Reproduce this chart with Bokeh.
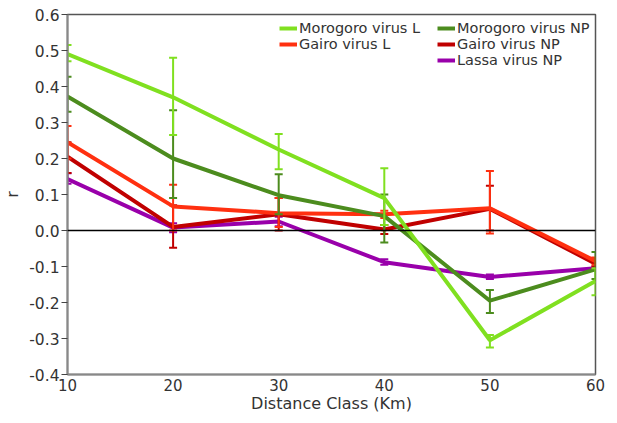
from bokeh.plotting import figure
from bokeh.models import (ColumnDataSource, Legend, LegendItem, Span, FixedTicker,
                          PrintfTickFormatter, Range1d)
from bokeh.embed import file_html
from bokeh.resources import INLINE

distance = [10, 20, 30, 40, 50, 60]
x_title = "Distance Class (Km)"
y_title = "r"

morogoro_L = [0.49, 0.37, 0.225, 0.09, -0.305, -0.14]
morogoro_L_lo = [0.47, 0.265, 0.17, 0.015, -0.325, -0.18]
morogoro_L_hi = [0.515, 0.48, 0.268, 0.173, -0.29, -0.105]

morogoro_NP = [0.372, 0.2, 0.098, 0.04, -0.195, -0.108]
morogoro_NP_lo = [0.33, 0.09, 0.045, -0.033, -0.229, -0.135]
morogoro_NP_hi = [0.427, 0.334, 0.156, 0.10, -0.165, -0.06]

gairo_L = [0.245, 0.067, 0.048, 0.045, 0.062, -0.085]
gairo_L_lo = [0.2, 0.0, 0.01, 0.035, -0.008, -0.095]
gairo_L_hi = [0.29, 0.127, 0.09, 0.055, 0.165, -0.075]

gairo_NP = [0.205, 0.01, 0.045, 0.003, 0.06, -0.092]
gairo_NP_lo = [0.16, -0.048, 0.0, -0.01, 0.0, -0.1]
gairo_NP_hi = [0.245, 0.07, 0.09, 0.015, 0.124, -0.08]

lassa_NP = [0.143, 0.008, 0.025, -0.088, -0.129, -0.105]
lassa_NP_lo = [0.13, -0.005, 0.012, -0.095, -0.135, -0.11]
lassa_NP_hi = [0.159, 0.02, 0.038, -0.08, -0.122, -0.1]

series = [
    ("Lassa virus NP", lassa_NP, lassa_NP_lo, lassa_NP_hi, "#9900AA"),
    ("Gairo virus NP", gairo_NP, gairo_NP_lo, gairo_NP_hi, "#C00000"),
    ("Gairo virus L", gairo_L, gairo_L_lo, gairo_L_hi, "#FF3010"),
    ("Morogoro virus NP", morogoro_NP, morogoro_NP_lo, morogoro_NP_hi, "#4C8C1E"),
    ("Morogoro virus L", morogoro_L, morogoro_L_lo, morogoro_L_hi, "#80E020"),
]

FONT = "DejaVu Sans"

p = figure(width=609, height=415, output_backend="svg", toolbar_location=None,
           x_range=Range1d(10, 60), y_range=Range1d(-0.4, 0.6),
           min_border_left=62, min_border_right=14, min_border_top=14,
           min_border_bottom=35)
p.grid.visible = False
p.background_fill_color = "white"
p.outline_line_color = "#555555"
p.outline_line_width = 1.5

p.add_layout(Span(location=0, dimension="width", line_color="black", line_width=1.5))

renderers = {}
for name, y, lo, hi, color in series:
    src = ColumnDataSource(dict(x=distance, y=y, lo=lo, hi=hi))
    p.segment(x0="x", y0="lo", x1="x", y1="hi", source=src, line_color=color, line_width=2)
    p.dash(x="x", y="lo", source=src, size=8, line_color=color, line_width=2)
    p.dash(x="x", y="hi", source=src, size=8, line_color=color, line_width=2)
    renderers[name] = p.line(x="x", y="y", source=src, line_color=color, line_width=4)

# axes
p.xaxis.ticker = FixedTicker(ticks=distance)
p.yaxis.ticker = FixedTicker(ticks=[-0.4, -0.3, -0.2, -0.1, 0.0, 0.1, 0.2, 0.3, 0.4, 0.5, 0.6])
p.yaxis.formatter = PrintfTickFormatter(format="%.1f")
for ax in (p.xaxis[0], p.yaxis[0]):
    ax.axis_line_color = "#888888"
    ax.axis_line_width = 2
    ax.major_label_text_font = FONT
    ax.major_label_text_font_size = "15.5px"
    ax.major_label_text_color = "#333333"
    ax.axis_label_text_font = FONT
    ax.axis_label_text_font_size = "16px"
    ax.axis_label_text_font_style = "normal"
    ax.axis_label_text_color = "#333333"
    ax.minor_tick_line_color = None
p.xaxis.major_label_text_font_size = "15px"
p.xaxis.major_label_text_line_height = 0.9
p.xaxis.axis_label_text_line_height = 0.9
p.xaxis.major_tick_line_color = None
p.xaxis.major_tick_out = 0
p.xaxis.major_tick_in = 0
p.xaxis.major_label_standoff = 4
p.xaxis.axis_label = x_title
p.xaxis.axis_label_standoff = 0
p.yaxis.major_tick_line_color = "#444444"
p.yaxis.major_tick_out = 6
p.yaxis.major_tick_in = 0
p.yaxis.major_label_standoff = 2
p.yaxis.axis_label = y_title
p.yaxis.axis_label_standoff = 4

def make_legend(names, loc):
    lg = Legend(items=[LegendItem(label=n, renderers=[renderers[n]]) for n in names],
                location=loc, orientation="vertical",
                label_text_font=FONT, label_text_font_size="14.5px",
                label_text_color="#333333",
                glyph_width=18, glyph_height=16, label_height=16,
                label_standoff=2, spacing=0, padding=0, margin=0,
                border_line_color=None, background_fill_alpha=0)
    p.add_layout(lg, "center")

make_legend(["Morogoro virus L", "Gairo virus L"], (212, 322))
make_legend(["Morogoro virus NP", "Gairo virus NP", "Lassa virus NP"], (370, 306))

open("out.html", "w").write(file_html(p, INLINE))
